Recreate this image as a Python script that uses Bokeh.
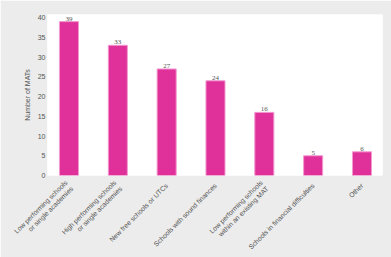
import math
from bokeh.plotting import figure
from bokeh.models import ColumnDataSource, FixedTicker, Range1d, LabelSet
from bokeh.embed import file_html
from bokeh.resources import INLINE

# Reasons given by MATs for taking on schools
categories = [
    "Low performing schools\nor single academies",
    "High performing schools\nor single academies",
    "New free schools or UTCs",
    "Schools with sound finances",
    "Low performing schools\nwithin an existing MAT",
    "Schools in financial difficulties",
    "Other",
]
counts = [39, 33, 27, 24, 16, 5, 6]

positions = list(range(len(categories)))
source = ColumnDataSource(dict(x=positions, y=counts, label=[str(c) for c in counts]))

FONT = "Liberation Sans"
TEXT = "#555555"

p = figure(
    width=391, height=257,
    output_backend="svg", toolbar_location=None,
    x_range=Range1d(-0.44, 6.42), y_range=Range1d(0, 40.8),
    min_border_left=47, min_border_right=9, min_border_top=14, min_border_bottom=82,
)
p.border_fill_color = "#ececec"
p.background_fill_color = "white"
p.outline_line_color = None
p.grid.grid_line_color = None

p.vbar(x="x", top="y", width=0.39, source=source,
       fill_color="#e0309a", line_color="#f29ad0", line_width=1)

labels = LabelSet(x="x", y="y", text="label", source=source,
                  text_align="center", text_baseline="bottom", y_offset=1,
                  text_font=FONT, text_font_size="7px", text_color=TEXT)
p.add_layout(labels)

# y axis
p.yaxis.ticker = FixedTicker(ticks=list(range(0, 41, 5)))
p.yaxis.axis_line_color = None
p.yaxis.major_tick_line_color = None
p.yaxis.minor_tick_line_color = None
p.yaxis.major_tick_out = 0
p.yaxis.major_tick_in = 0
p.yaxis.major_label_text_font = FONT
p.yaxis.major_label_text_font_size = "7px"
p.yaxis.major_label_text_color = TEXT
p.yaxis.major_label_standoff = 2
p.yaxis.axis_label = "Number of MATs"
p.yaxis.axis_label_text_font = FONT
p.yaxis.axis_label_text_font_size = "7px"
p.yaxis.axis_label_text_font_style = "normal"
p.yaxis.axis_label_text_color = TEXT
p.yaxis.axis_label_standoff = 4

# x axis
p.xaxis.ticker = FixedTicker(ticks=positions)
p.xaxis.major_label_overrides = {i: c for i, c in zip(positions, categories)}
p.xaxis.major_label_orientation = math.pi / 4
p.xaxis.axis_line_color = None
p.xaxis.major_tick_line_color = None
p.xaxis.minor_tick_line_color = None
p.xaxis.major_tick_out = 0
p.xaxis.major_tick_in = 0
p.xaxis.major_label_text_font = FONT
p.xaxis.major_label_text_font_size = "6.8px"
p.xaxis.major_label_text_color = TEXT
p.xaxis.major_label_standoff = 9

open("out.html", "w").write(file_html(p, INLINE))
